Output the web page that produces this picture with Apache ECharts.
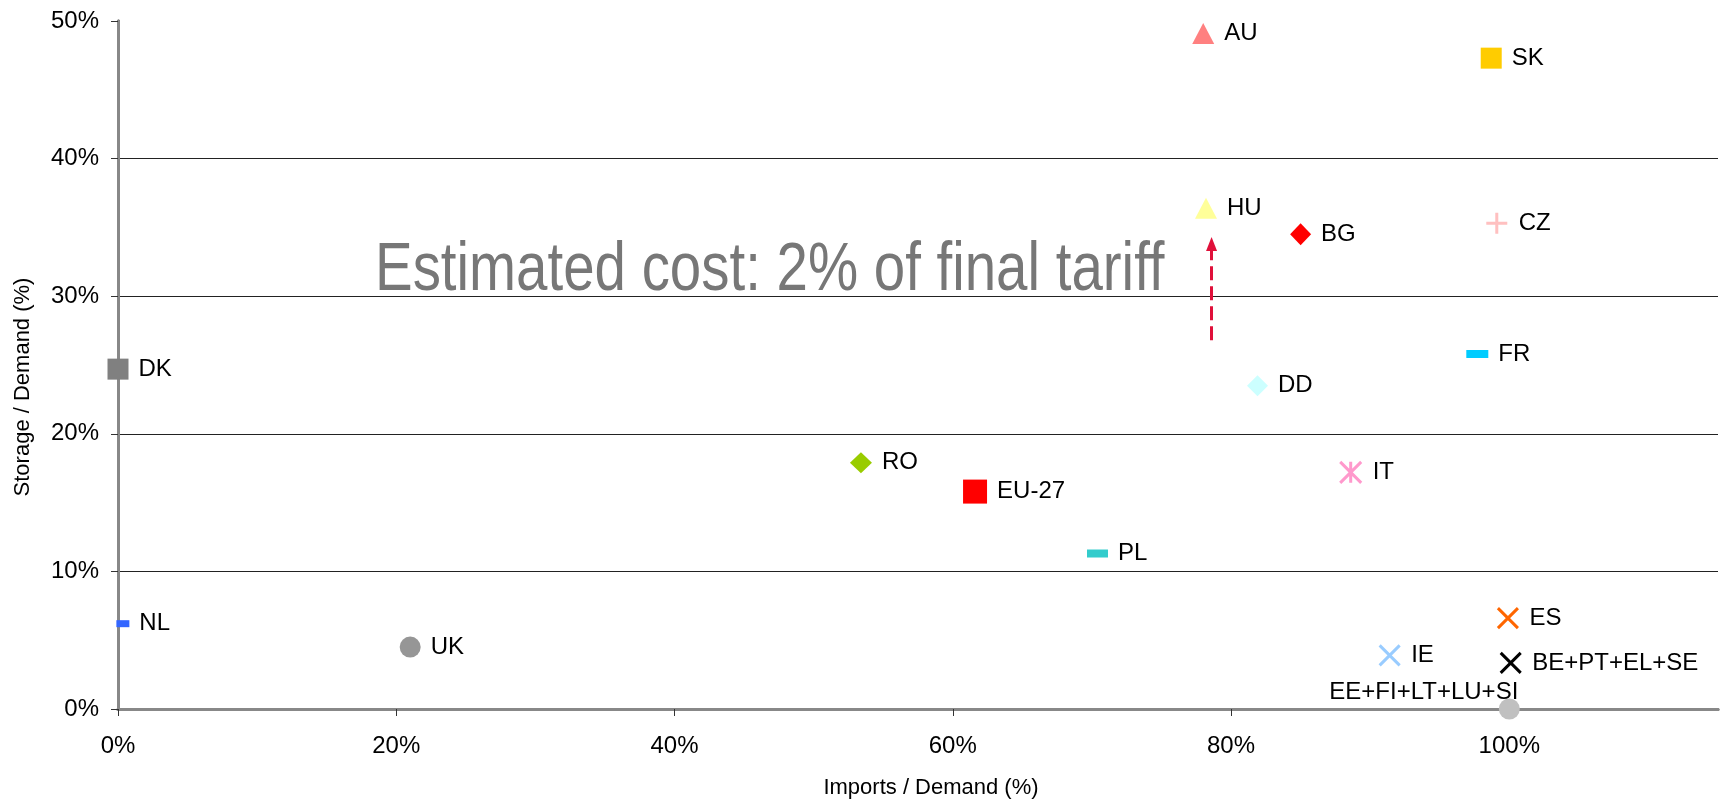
<!DOCTYPE html>
<html>
<head>
<meta charset="utf-8">
<script src="https://cdn.jsdelivr.net/npm/echarts@6/dist/echarts.min.js"></script>
<style>
  html, body { margin: 0; padding: 0; background: #fff; }
  #chart-container { width: 1721px; height: 806px; }
</style>
</head>
<body>
<div id="chart-container"></div>
<script>
var countries = ['AU', 'SK', 'HU', 'BG', 'CZ', 'DK', 'FR', 'DD', 'RO', 'EU-27', 'IT', 'PL', 'NL', 'UK', 'ES', 'IE', 'BE+PT+EL+SE', 'EE+FI+LT+LU+SI'];
var importsShare = [78.0, 98.7, 78.2, 85.0, 99.1, 0.0, 97.7, 81.9, 53.4, 61.6, 88.6, 70.4, 0.35, 21.0, 99.9, 91.4, 100.1, 100.0];
var storageShare = [49.1, 47.3, 36.4, 34.5, 35.3, 24.7, 25.8, 23.5, 17.9, 15.8, 17.2, 11.3, 6.2, 4.5, 6.6, 3.9, 3.35, 0.0];

// dashed arrow next to HU
var arrowImports = 78.6;
var arrowStorage = [26.8, 33.8];

var noteText = 'Estimated cost: 2% of final tariff';

var CROSS = 'path://M0,0L10,10M10,0L0,10';
var PLUS = 'path://M5,0L5,10M0,5L10,5';
var STAR = 'path://M5,0L5,10M0,0L10,10M10,0L0,10';

// marker look per country
var markers = {
  'AU': { symbol: 'triangle', size: [22, 21], color: '#FF8080' },
  'SK': { symbol: 'rect', size: [21, 21], color: '#FFCC00' },
  'HU': { symbol: 'triangle', size: [22, 21], color: '#FFFF99' },
  'BG': { symbol: 'diamond', size: [21, 22], color: '#FF0000' },
  'CZ': { symbol: PLUS, size: [21, 21], color: '#FFC0C0', stroke: true },
  'DK': { symbol: 'rect', size: [21, 21], color: '#808080' },
  'FR': { symbol: 'rect', size: [22, 8], color: '#00CCFF' },
  'DD': { symbol: 'diamond', size: [21, 21], color: '#CCFFFF' },
  'RO': { symbol: 'diamond', size: [22, 21], color: '#99CC00' },
  'EU-27': { symbol: 'rect', size: [24, 24], color: '#FF0000' },
  'IT': { symbol: STAR, size: [21, 21], color: '#FF99CC', stroke: true },
  'PL': { symbol: 'rect', size: [21, 8], color: '#33CCCC' },
  'NL': { symbol: 'rect', size: [13, 7], color: '#3366FF' },
  'UK': { symbol: 'circle', size: 21, color: '#969696' },
  'ES': { symbol: CROSS, size: [20, 20], color: '#FF6600', stroke: true },
  'IE': { symbol: CROSS, size: [20, 20], color: '#99CCFF', stroke: true },
  'BE+PT+EL+SE': { symbol: CROSS, size: [20, 20], color: '#000000', stroke: true },
  'EE+FI+LT+LU+SI': { symbol: 'circle', size: 21, color: '#C0C0C0' }
};

var FONT = '"Liberation Sans", Arial, sans-serif';

var dom = document.getElementById('chart-container');
var myChart = echarts.init(dom, null, { renderer: 'canvas' });

var series = countries.map(function (name, i) {
  var m = markers[name];
  var s = {
    name: name,
    type: 'scatter',
    data: [[importsShare[i], storageShare[i]]],
    symbol: m.symbol,
    symbolSize: m.size,
    clip: false,
    z: 3,
    itemStyle: m.stroke
      ? { color: m.color, borderColor: m.color, borderWidth: 3, opacity: 1 }
      : { color: m.color, opacity: 1 },
    label: {
      show: true,
      position: 'right',
      distance: 10,
      formatter: name,
      color: '#000',
      opacity: 1,
      fontSize: 24,
      fontFamily: FONT
    },
    emphasis: { disabled: true }
  };
  if (name === 'EE+FI+LT+LU+SI') {
    s.label.position = 'top';
    s.label.distance = 0;
    s.label.align = 'right';
    s.label.offset = [9, 6];
  }
  if (name === 'HU') {
    s.markLine = {
      silent: true,
      animation: false,
      symbol: ['none', 'triangle'],
      symbolSize: [11, 14],
      lineStyle: { color: '#E0103A', width: 3, type: [14, 6] },
      label: { show: false },
      data: [[
        { coord: [arrowImports, arrowStorage[0]] },
        { coord: [arrowImports, arrowStorage[1]] }
      ]]
    };
  }
  return s;
});

var option = {
  animation: false,
  backgroundColor: '#fff',
  grid: { left: 118, right: 3, top: 21, bottom: 97 },
  xAxis: [{
    type: 'value',
    min: 0,
    max: 115,
    interval: 20,
    name: 'Imports / Demand (%)',
    nameLocation: 'middle',
    nameGap: 68,
    nameTextStyle: { fontSize: 22, color: '#000', fontFamily: FONT, padding: [0, 0, 0, 26] },
    axisLine: { show: true, lineStyle: { color: '#7a7a7a', width: 3 } },
    axisTick: { show: true, length: 7, lineStyle: { color: '#333', width: 1 } },
    axisLabel: { formatter: '{value}%', fontSize: 24, color: '#000', fontFamily: FONT, margin: 25, showMaxLabel: false },
    splitLine: { show: false }
  }, {
    type: 'value',
    position: 'top',
    min: 0,
    max: 115,
    axisLine: { show: true, lineStyle: { color: '#888', width: 3 } },
    axisTick: { show: false },
    axisLabel: { show: false },
    splitLine: { show: false }
  }],
  yAxis: [{
    type: 'value',
    min: 0,
    max: 50,
    interval: 10,
    name: 'Storage / Demand (%)',
    nameLocation: 'middle',
    nameRotate: 90,
    nameGap: 84,
    nameTextStyle: { fontSize: 22, color: '#000', fontFamily: FONT, padding: [0, 44, 0, 0] },
    axisLine: { show: true, lineStyle: { color: '#4d4d4d', width: 3 } },
    axisTick: { show: true, length: 7, lineStyle: { color: '#333', width: 1 } },
    axisLabel: { formatter: '{value}%', fontSize: 24, color: '#000', fontFamily: FONT, margin: 19 },
    splitLine: { show: true, showMinLine: false, showMaxLine: false, lineStyle: { color: '#222', width: 1 } }
  }, {
    type: 'value',
    position: 'right',
    min: 0,
    max: 50,
    axisLine: { show: true, lineStyle: { color: '#888', width: 3 } },
    axisTick: { show: false },
    axisLabel: { show: false },
    splitLine: { show: false }
  }],
  graphic: [{
    type: 'text',
    silent: true,
    z: 1,
    x: 375,
    y: 271,
    scaleX: 0.83,
    style: {
      x: 0,
      y: 0,
      text: noteText,
      fill: '#777777',
      font: '68px "Liberation Sans", Arial, sans-serif',
      textVerticalAlign: 'middle'
    }
  }],
  series: series
};

myChart.setOption(option);
window.addEventListener('resize', myChart.resize);
</script>
</body>
</html>
